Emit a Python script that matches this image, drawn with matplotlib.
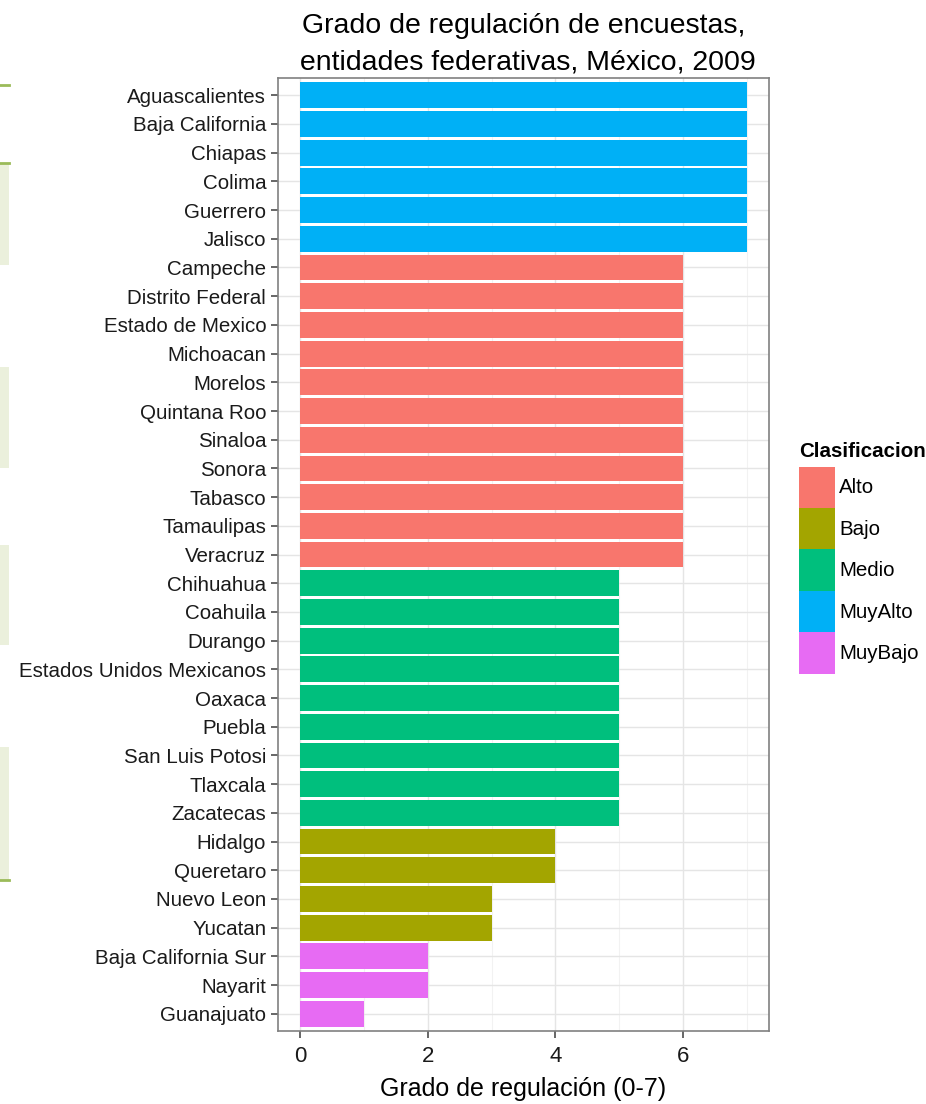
import matplotlib
matplotlib.use("Agg")
import matplotlib.pyplot as plt
from matplotlib.patches import Patch, Rectangle

# data
estados = ["Aguascalientes", "Baja California", "Chiapas", "Colima", "Guerrero", "Jalisco",
           "Campeche", "Distrito Federal", "Estado de Mexico", "Michoacan", "Morelos",
           "Quintana Roo", "Sinaloa", "Sonora", "Tabasco", "Tamaulipas", "Veracruz",
           "Chihuahua", "Coahuila", "Durango", "Estados Unidos Mexicanos", "Oaxaca",
           "Puebla", "San Luis Potosi", "Tlaxcala", "Zacatecas",
           "Hidalgo", "Queretaro", "Nuevo Leon", "Yucatan",
           "Baja California Sur", "Nayarit", "Guanajuato"]
grado = [7, 7, 7, 7, 7, 7,
         6, 6, 6, 6, 6, 6, 6, 6, 6, 6, 6,
         5, 5, 5, 5, 5, 5, 5, 5, 5,
         4, 4, 3, 3,
         2, 2, 1]
clase = ["MuyAlto"] * 6 + ["Alto"] * 11 + ["Medio"] * 9 + ["Bajo"] * 4 + ["MuyBajo"] * 3
categorias = ["Alto", "Bajo", "Medio", "MuyAlto", "MuyBajo"]
colores = ["#F8766D", "#A3A500", "#00BF7D", "#00B0F6", "#E76BF3"]

plt.rcParams["font.family"] = ["Liberation Sans", "DejaVu Sans"]

fig = plt.figure(figsize=(9.26, 11.04), dpi=100)
ax = fig.add_axes([0.3002, 0.0661, 0.8305 - 0.3002, 0.9293 - 0.0661])

# slide decoration on the left edge
for y0, y1 in [(163, 265), (367, 468), (545, 645), (747, 880)]:
    fig.add_artist(Rectangle((0, 1 - y1 / 1104), 9 / 926, (y1 - y0) / 1104,
                             transform=fig.transFigure, color="#ebf0dc", lw=0))
for y in [85, 163, 880]:
    fig.add_artist(plt.Line2D([0, 9 / 926], [1 - y / 1104] * 2, transform=fig.transFigure,
                              color="#9bbb59", lw=2))

col_map = dict(zip(categorias, colores))
pos = list(range(len(estados)))
ax.barh(pos, grado, height=0.9, color=[col_map[c] for c in clase], zorder=3)

ax.set_ylim(len(estados) - 1 + 0.6, -0.6)
ax.set_xlim(-0.35, 7.35)
ax.set_yticks(pos)
ax.set_yticklabels(estados, fontsize=14.8, color="#1a1a1a")
ax.set_xticks([0, 2, 4, 6])
ax.set_xticks([1, 3, 5, 7], minor=True)
ax.tick_params(axis="x", labelsize=16, labelcolor="#1a1a1a", color="#4d4d4d",
               length=5, width=1.2, pad=6)
ax.tick_params(axis="x", which="minor", length=0)
ax.tick_params(axis="y", color="#4d4d4d", length=5, width=1.2)

ax.grid(True, which="major", color="#e5e5e5", lw=1, zorder=0)
ax.grid(True, which="minor", axis="x", color="#f2f2f2", lw=0.8, zorder=0)
for s in ax.spines.values():
    s.set_color("#808080")
    s.set_linewidth(1.2)

ax.set_xlabel("Grado de regulación (0-7)", fontsize=18, labelpad=7)
ax.set_title("Grado de regulación de encuestas,\n entidades federativas, México, 2009",
             fontsize=20.5, linespacing=1.5, pad=6.5)

handles = [Patch(facecolor=c, edgecolor="none") for c in colores]
leg = fig.legend(handles, categorias, title="Clasificacion", loc="upper left",
                 bbox_to_anchor=(0.854, 0.607), frameon=False, fontsize=14.8,
                 title_fontproperties={"weight": "bold", "size": 14.8},
                 handlelength=1.75, handleheight=2.72, handletextpad=0.2,
                 labelspacing=0.0, borderaxespad=0)
leg._legend_box.align = "left"
leg._legend_box.sep = 4

plt.savefig("out.png", dpi=100)
